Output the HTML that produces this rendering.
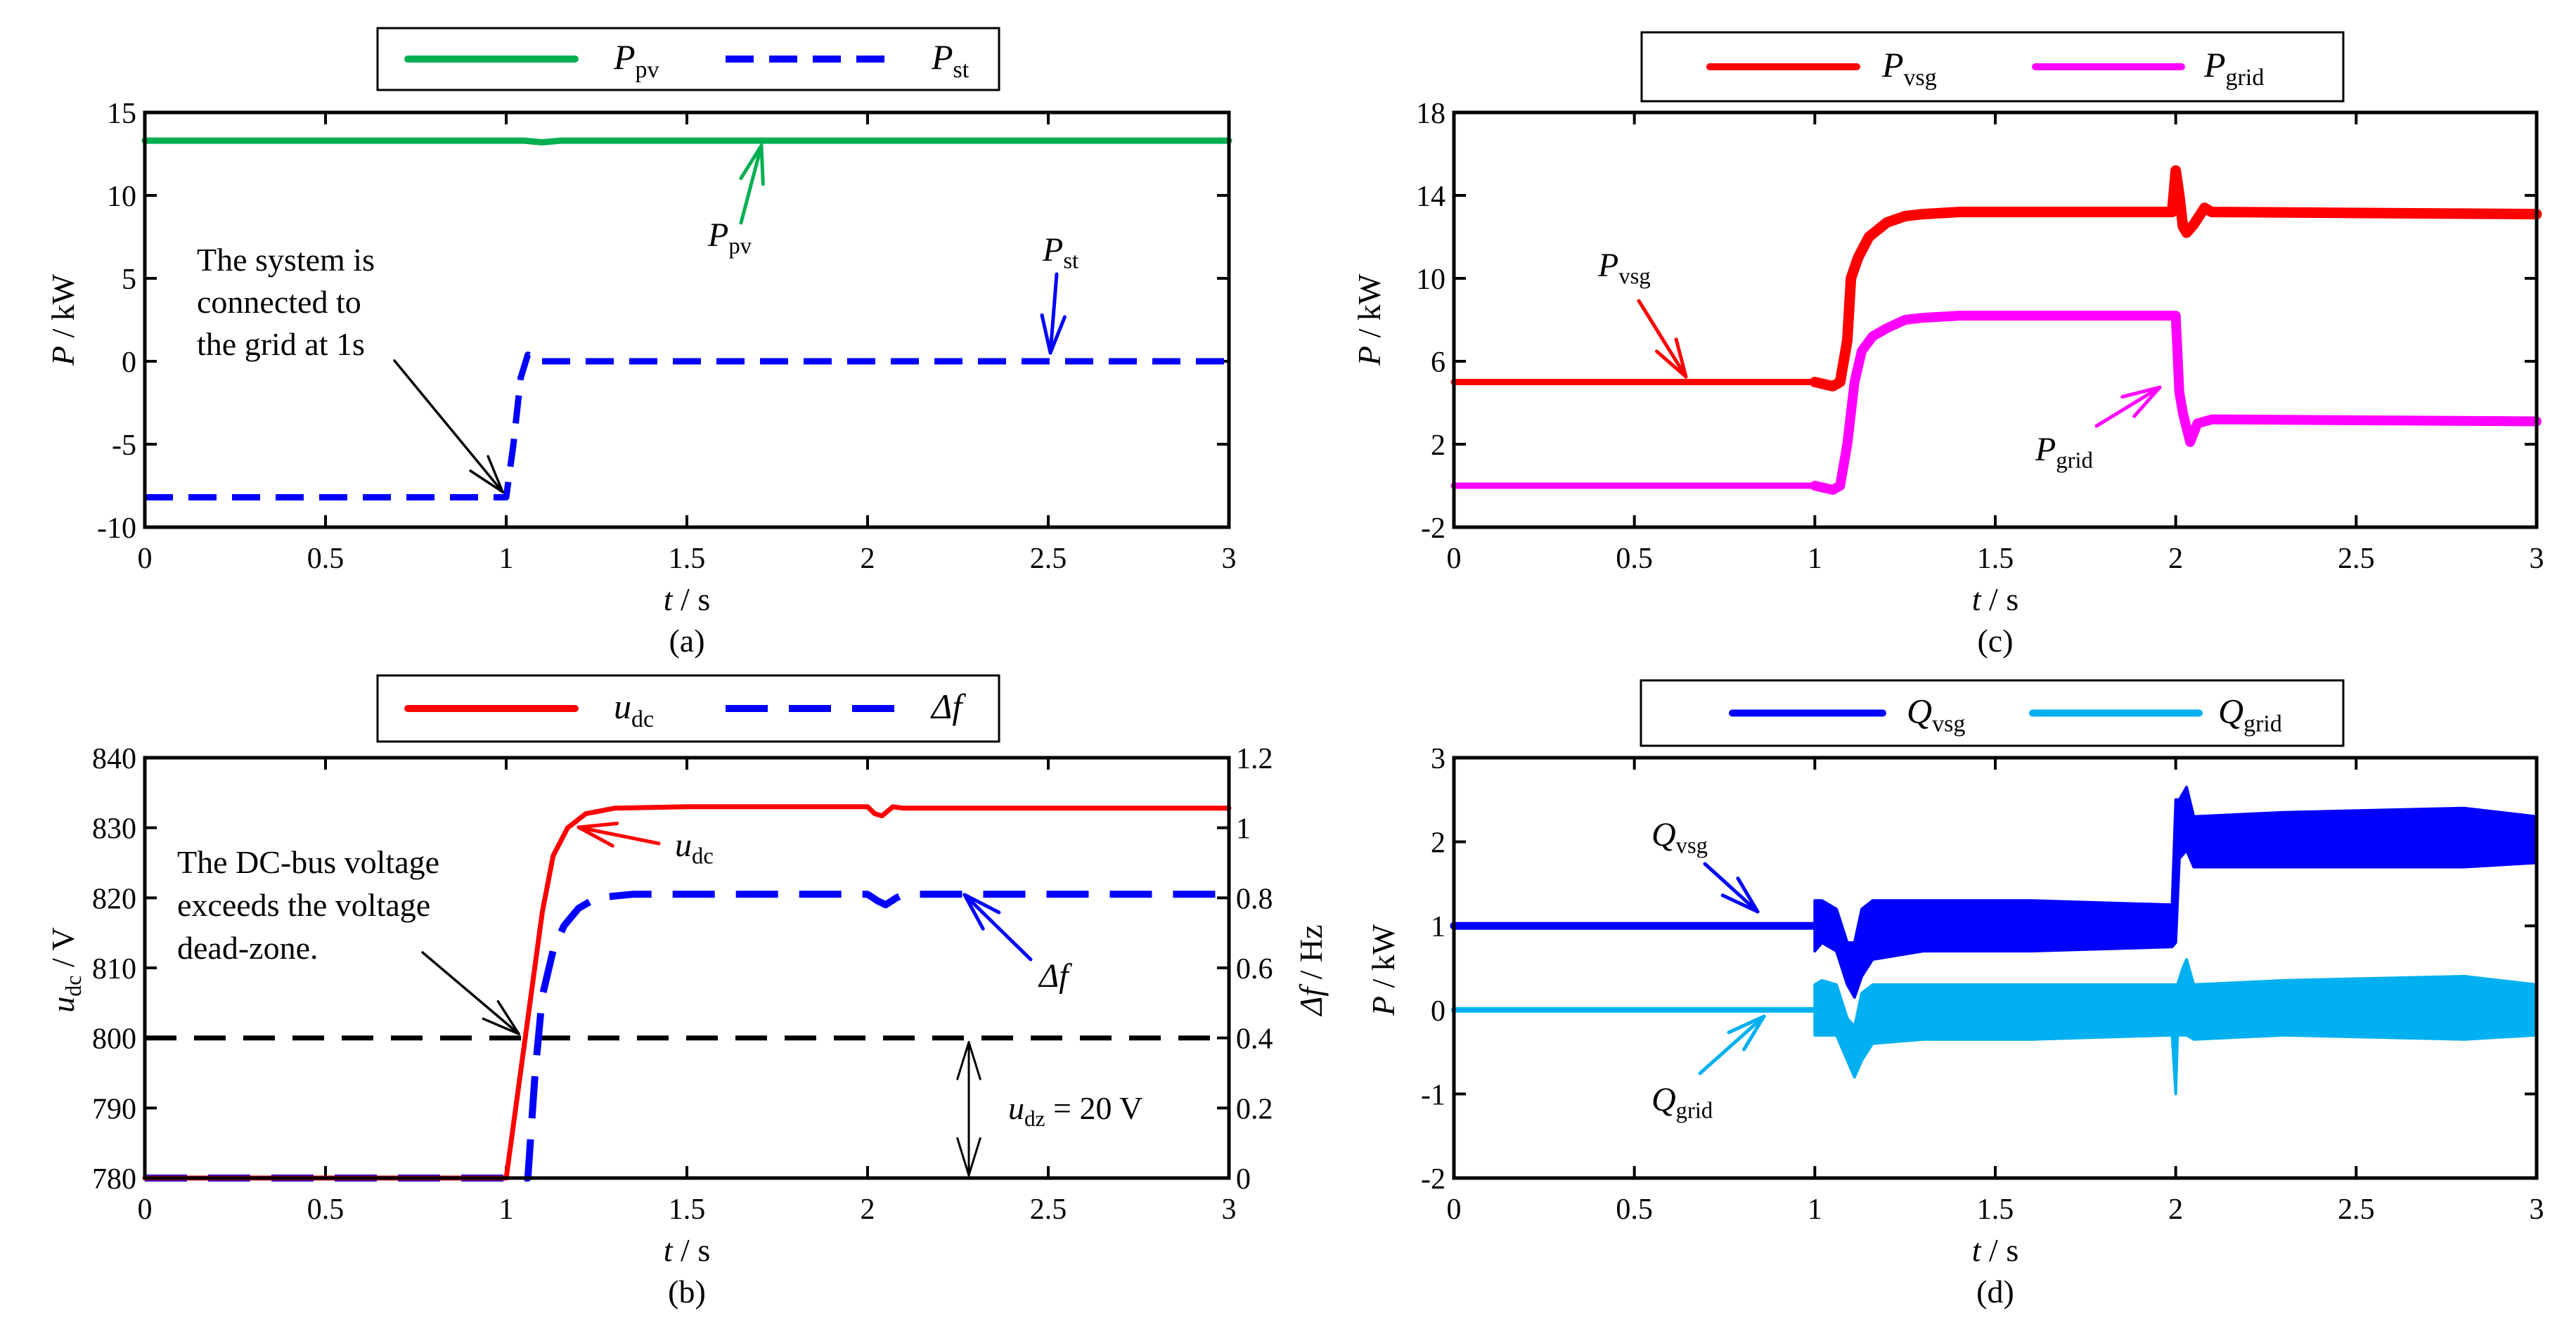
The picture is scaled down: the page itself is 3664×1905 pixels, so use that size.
<!DOCTYPE html>
<html><head><meta charset="utf-8">
<style>
html,body{margin:0;padding:0;background:#fff;}
svg, svg text{font-family:"Liberation Serif","DejaVu Serif",serif;}
</style></head>
<body>
<svg id="fig" width="3664" height="1900" viewBox="0 0 3664 1900" xmlns="http://www.w3.org/2000/svg" font-family="Liberation Serif, DejaVu Serif, serif">
<rect x="0" y="0" width="3664" height="1900" fill="#fff"/>
</svg>
<script>
// ---------- DATA ----------
const ticksT = [0, 0.5, 1, 1.5, 2, 2.5, 3];
const tickLabelsT = ["0", "0.5", "1", "1.5", "2", "2.5", "3"];
// panel a
const ticksA = [-10, -5, 0, 5, 10, 15];
const ppvT = [0, 1.05, 1.1, 1.15, 3];
const ppvV = [13.3, 13.3, 13.2, 13.3, 13.3];
const pstT = [0, 1.0, 1.02, 1.04, 1.06, 1.07, 1.08, 3];
const pstV = [-8.2, -8.2, -5, -1, 0.4, 0.3, 0, 0];
// panel b
const ticksB = [780, 790, 800, 810, 820, 830, 840];
const ticksBR = [0, 0.2, 0.4, 0.6, 0.8, 1, 1.2];
const tickLabelsBR = ["0", "0.2", "0.4", "0.6", "0.8", "1", "1.2"];
const udcT = [0, 1.0, 1.05, 1.1, 1.13, 1.17, 1.22, 1.3, 1.5, 2.0, 2.02, 2.04, 2.07, 2.1, 3];
const udcV = [780, 780, 799, 818, 826, 830, 832, 832.8, 833, 833, 832, 831.7, 833, 832.8, 832.8];
const dfT = [0, 1.06, 1.08, 1.1, 1.13, 1.16, 1.2, 1.25, 1.35, 1.5, 2.0, 2.03, 2.05, 2.08, 2.1, 3];
const dfV = [0, 0, 0.3, 0.52, 0.65, 0.72, 0.77, 0.8, 0.81, 0.81, 0.81, 0.79, 0.78, 0.8, 0.81, 0.81];
const deadZone = 800;
// panel c
const ticksC = [-2, 2, 6, 10, 14, 18];
const pvsgT = [0, 1.0, 1.05, 1.07, 1.09, 1.1, 1.12, 1.15, 1.2, 1.25, 1.3, 1.4, 1.99, 2.0, 2.01, 2.02, 2.03, 2.05, 2.08, 2.1, 3.0];
const pvsgV = [5, 5, 4.8, 5, 7, 10, 11, 12, 12.7, 13, 13.1, 13.2, 13.2, 15.2, 14, 12.5, 12.2, 12.6, 13.4, 13.2, 13.1];
const pgridT = [0, 1.0, 1.05, 1.07, 1.09, 1.11, 1.13, 1.16, 1.2, 1.25, 1.3, 1.4, 1.99, 2.0, 2.01, 2.02, 2.04, 2.06, 2.1, 3.0];
const pgridV = [0, 0, -0.2, 0, 2, 5, 6.5, 7.2, 7.6, 8, 8.1, 8.2, 8.2, 8.2, 4.5, 3.5, 2.1, 3, 3.2, 3.1];
// panel d
const ticksD = [-2, -1, 0, 1, 2, 3];
const qvsgFlat = 1.0;
const qvsgT  = [1.0, 1.02, 1.06, 1.09, 1.11, 1.13, 1.16, 1.3, 1.6, 1.99, 2.0, 2.01, 2.03, 2.05, 2.3, 2.8, 3.0];
const qvsgUp = [1.3, 1.3, 1.2, 0.8, 0.8, 1.2, 1.3, 1.3, 1.3, 1.25, 2.5, 2.5, 2.65, 2.3, 2.35, 2.4, 2.3];
const qvsgLo = [0.7, 0.8, 0.7, 0.3, 0.15, 0.4, 0.6, 0.7, 0.7, 0.75, 0.8, 1.8, 1.9, 1.7, 1.7, 1.7, 1.75];
const qgridFlat = 0.0;
const qgridT  = [1.0, 1.02, 1.06, 1.09, 1.11, 1.13, 1.16, 1.3, 1.6, 1.99, 2.0, 2.005, 2.02, 2.03, 2.05, 2.3, 2.8, 3.0];
const qgridUp = [0.3, 0.35, 0.3, -0.1, -0.2, 0.2, 0.3, 0.3, 0.3, 0.3, 0.3, 0.3, 0.5, 0.6, 0.3, 0.35, 0.4, 0.3];
const qgridLo = [-0.3, -0.3, -0.3, -0.6, -0.8, -0.6, -0.4, -0.35, -0.35, -0.3, -1.0, -0.3, -0.3, -0.3, -0.35, -0.3, -0.35, -0.3];

// ---------- HELPERS ----------
const NS = "http://www.w3.org/2000/svg";
const svg = document.getElementById("fig");
const FONT = "Liberation Serif, DejaVu Serif, serif";
function el(tag, attrs, parent, text) {
  const e = document.createElementNS(NS, tag);
  for (const k in attrs) e.setAttribute(k, attrs[k]);
  if (tag === "text") e.setAttribute("font-family", FONT);
  if (text !== undefined) e.textContent = text;
  (parent || svg).appendChild(e);
  return e;
}
function mkPanel(x0, x1, yT, yB, ymin, ymax) {
  return {x0, x1, yT, yB, ymin, ymax,
    sx: t => x0 + (t - 0) / 3 * (x1 - x0),
    sy: v => yB - (v - ymin) / (ymax - ymin) * (yB - yT)};
}
function yScale(p, lo, hi) { return v => p.yB - (v - lo) / (hi - lo) * (p.yB - p.yT); }
function pts(p, T, V, sy) { sy = sy || p.sy; return T.map((t, i) => p.sx(t).toFixed(1) + "," + sy(V[i]).toFixed(1)).join(" "); }

function axes(p, name, yticks, ylabels, rightTicks) {
  const g = el("g", {});
  
  
  ticksT.forEach((t, i) => {
    const x = p.sx(t);
    el("line", {x1: x, y1: p.yB, x2: x, y2: p.yB - 17, stroke: "#000", "stroke-width": 4}, g);
    el("line", {x1: x, y1: p.yT, x2: x, y2: p.yT + 17, stroke: "#000", "stroke-width": 4}, g);
    const tx = el("text", {x: x, y: p.yB + 58, "font-size": 42, "text-anchor": "middle"}, g, tickLabelsT[i]);
    
    
  });
  yticks.forEach((v, i) => {
    const y = p.sy(v);
    el("line", {x1: p.x0, y1: y, x2: p.x0 + 17, y2: y, stroke: "#000", "stroke-width": 4}, g);
    if (!rightTicks) el("line", {x1: p.x1, y1: y, x2: p.x1 - 17, y2: y, stroke: "#000", "stroke-width": 4}, g);
    const tx = el("text", {x: p.x0 - 12, y: y + 15, "font-size": 42, "text-anchor": "end"}, g, ylabels ? ylabels[i] : String(v));
    
    
  });
  return g;
}
function frame(p) {
  const r = el("rect", {x: p.x0, y: p.yT, width: p.x1 - p.x0, height: p.yB - p.yT, fill: "none", stroke: "#000", "stroke-width": 5});
  
  
}
function line(p, T, V, color, w, dash, name, sy) {
  const a = {points: pts(p, T, V, sy), fill: "none", stroke: color, "stroke-width": w, "stroke-linejoin": "round", "stroke-linecap": "round"};
  if (dash) { a["stroke-dasharray"] = dash; a["stroke-linecap"] = "butt"; }
  const e = el("polyline", a);
  
  
  return e;
}
function band(p, T, U, L, color, name) {
  const up = T.map((t, i) => p.sx(t).toFixed(1) + "," + p.sy(U[i]).toFixed(1));
  const lo = T.map((t, i) => p.sx(t).toFixed(1) + "," + p.sy(L[i]).toFixed(1)).reverse();
  const e = el("polygon", {points: up.concat(lo).join(" "), fill: color, stroke: color, "stroke-width": 4, "stroke-linejoin": "round"});
  
  
}
function arrow(x1, y1, x2, y2, color, w, name) {
  const g = el("g", {stroke: color, "stroke-width": w, fill: "none", "stroke-linecap": "round"});
  
  
  el("line", {x1, y1, x2, y2}, g);
  const ang = Math.atan2(y2 - y1, x2 - x1), L = 55, a = 0.3;
  el("line", {x1: x2, y1: y2, x2: x2 - L * Math.cos(ang - a), y2: y2 - L * Math.sin(ang - a)}, g);
  el("line", {x1: x2, y1: y2, x2: x2 - L * Math.cos(ang + a), y2: y2 - L * Math.sin(ang + a)}, g);
}
function label(x, y, main, sub, size, name, italic, anchor) {
  const t = el("text", {x, y, "font-size": size, "text-anchor": anchor || "start"});
  
  
  el("tspan", {"font-style": italic === false ? "normal" : "italic"}, t, main);
  if (sub) el("tspan", {"font-size": size * 0.68, dy: size * 0.22}, t, sub);
  return t;
}
function textLines(x, y0, lines, dy, size, name) {
  const t = el("text", {x, y: y0, "font-size": size});
  
  
  lines.forEach((s, i) => el("tspan", {x, y: y0 + i * dy}, t, s));
}
function legend(x0, y0, x1, y1, items, name) {
  const g = el("g", {});
  
  
  el("rect", {x: x0, y: y0, width: x1 - x0, height: y1 - y0, fill: "#fff", stroke: "#000", "stroke-width": 3}, g);
  const cy = (y0 + y1) / 2;
  items.forEach(it => {
    const a = {x1: it.lx0, y1: cy, x2: it.lx1, y2: cy, stroke: it.color, "stroke-width": 10, "stroke-linecap": it.dash ? "butt" : "round"};
    if (it.dash) a["stroke-dasharray"] = it.dash;
    const ln = el("line", a, g);
    
    
    const t = el("text", {x: it.tx, y: cy + 14, "font-size": 50}, g);
    
    
    el("tspan", {"font-style": "italic"}, t, it.main);
    if (it.sub) el("tspan", {"font-size": 34, dy: 12}, t, it.sub);
  });
}
function yTitle(x, y, main, sub, rest, name) {
  const t = el("text", {x: 0, y: 0, "font-size": 46, "text-anchor": "middle", transform: `translate(${x},${y}) rotate(-90)`});
  
  
  el("tspan", {"font-style": "italic"}, t, main);
  if (sub) el("tspan", {"font-size": 32, dy: 10}, t, sub);
  el("tspan", {dy: sub ? -10 : 0}, t, rest);
}
function xTitle(p, name, cap) {
  const cx = (p.x0 + p.x1) / 2;
  const t = el("text", {x: cx, y: p.yB + 118, "font-size": 46, "text-anchor": "middle"});
  
  
  el("tspan", {"font-style": "italic"}, t, "t");
  el("tspan", {}, t, " / s");
  const c = el("text", {x: cx, y: p.yB + 177, "font-size": 46, "text-anchor": "middle"}, svg, cap);
  
  
}

// ---------- PANEL A ----------
const pa = mkPanel(206, 1748, 160, 750, -10, 15);
axes(pa, "panel-a", ticksA);
line(pa, ppvT, ppvV, "#00b050", 9, null, "ppv-line");
line(pa, pstT, pstV, "#0000ff", 9, "40 22", "pst-line");
frame(pa);
yTitle(105, 455, "P", "", " / kW", "panel-a-y-title");
xTitle(pa, "panel-a", "(a)");
legend(537, 40, 1421, 128, [
  {lx0: 580, lx1: 818, color: "#00b050", tx: 873, main: "P", sub: "pv"},
  {lx0: 1032, lx1: 1265, color: "#0000ff", dash: "40 22", tx: 1325, main: "P", sub: "st"}], "panel-a-legend");
textLines(280, 385, ["The system is", "connected to", "the grid at 1s"], 60, 46, "grid-connect-annotation");
arrow(561, 513, 715, 700, "#000", 3.5, "grid-connect-arrow");
label(1007, 350, "P", "pv", 48, "ppv-label");
arrow(1054, 317, 1083, 207, "#00b050", 5, "ppv-arrow");
label(1483, 371, "P", "st", 48, "pst-label");
arrow(1503, 390, 1494, 502, "#0000ff", 5, "pst-arrow");

// ---------- PANEL B ----------
const pb = mkPanel(206, 1748, 1078, 1676, 780, 840);
const sybR = yScale(pb, 0, 1.2);
axes(pb, "panel-b", ticksB, null, true);
ticksBR.forEach((v, i) => {
  const y = sybR(v);
  el("line", {x1: pb.x1, y1: y, x2: pb.x1 - 17, y2: y, stroke: "#000", "stroke-width": 4});
  const t = el("text", {x: pb.x1 + 10, y: y + 15, "font-size": 42}, svg, tickLabelsBR[i]);
  
  
});
line(pb, [0, 3], [deadZone, deadZone], "#000", 7, "45 25", "dead-zone-line");
line(pb, dfT, dfV, "#0000ff", 10, "60 30", "delta-f-line", sybR);
line(pb, udcT, udcV, "#ff0000", 7, null, "udc-line");
frame(pb);
yTitle(105, 1380, "u", "dc", " / V", "panel-b-y-title");
yTitle(1880, 1380, "Δf", "", " / Hz", "panel-b-right-y-title");
xTitle(pb, "panel-b", "(b)");
legend(537, 961, 1421, 1055, [
  {lx0: 580, lx1: 818, color: "#ff0000", tx: 873, main: "u", sub: "dc"},
  {lx0: 1032, lx1: 1275, color: "#0000ff", dash: "60 30", tx: 1325, main: "Δf", sub: ""}], "panel-b-legend");
textLines(252, 1242, ["The DC-bus voltage", "exceeds the voltage", "dead-zone."], 61, 46, "dead-zone-annotation");
arrow(601, 1355, 738, 1471, "#000", 3.5, "dead-zone-arrow");
label(960, 1218, "u", "dc", 48, "udc-label");
arrow(937, 1200, 823, 1177, "#ff0000", 5, "udc-arrow");
label(1478, 1404, "Δf", "", 48, "delta-f-label");
arrow(1466, 1365, 1372, 1273, "#0000ff", 5, "delta-f-arrow");
(function(){
  const x = 1378, ya = pb.sy(deadZone) + 6, yb = pb.yB - 4;
  arrow(x, (ya + yb) / 2, x, ya, "#000", 3, "udz-arrow-up");
  arrow(x, (ya + yb) / 2, x, yb, "#000", 3, "udz-arrow-down");
})();
(function(){
  const t = label(1434, 1592, "u", "dz", 46, "udz-label");
  el("tspan", {dy: -10}, t, " = 20 V");
})();

// ---------- PANEL C ----------
const pc = mkPanel(2068, 3608, 160, 750, -2, 18);
axes(pc, "panel-c", ticksC);
line(pc, pvsgT, pvsgV, "#ff0000", 9, null, "pvsg-line");
line(pc, pvsgT.slice(1), pvsgV.slice(1), "#ff0000", 15, null, "pvsg-noise-band");
line(pc, pgridT, pgridV, "#ff00ff", 9, null, "pgrid-line");
line(pc, pgridT.slice(1), pgridV.slice(1), "#ff00ff", 14, null, "pgrid-noise-band");
frame(pc);
yTitle(1963, 455, "P", "", " / kW", "panel-c-y-title");
xTitle(pc, "panel-c", "(c)");
legend(2335, 46, 3333, 144, [
  {lx0: 2432, lx1: 2641, color: "#ff0000", tx: 2677, main: "P", sub: "vsg"},
  {lx0: 2895, lx1: 3103, color: "#ff00ff", tx: 3135, main: "P", sub: "grid"}], "panel-c-legend");
label(2273, 393, "P", "vsg", 48, "pvsg-label");
arrow(2331, 428, 2398, 536, "#ff0000", 5, "pvsg-arrow");
label(2895, 655, "P", "grid", 48, "pgrid-label");
arrow(2982, 606, 3072, 551, "#ff00ff", 5, "pgrid-arrow");

// ---------- PANEL D ----------
const pd = mkPanel(2068, 3608, 1078, 1676, -2, 3);
axes(pd, "panel-d", ticksD);
line(pd, [0, 1.0], [qgridFlat, qgridFlat], "#00b0f0", 8, null, "qgrid-flat-line");
band(pd, qgridT, qgridUp, qgridLo, "#00b0f0", "qgrid-band");
line(pd, [0, 1.0], [qvsgFlat, qvsgFlat], "#0000ff", 11, null, "qvsg-flat-line");
band(pd, qvsgT, qvsgUp, qvsgLo, "#0000ff", "qvsg-band");
frame(pd);
yTitle(1983, 1380, "P", "", " / kW", "panel-d-y-title");
xTitle(pd, "panel-d", "(d)");
legend(2334, 968, 3333, 1061, [
  {lx0: 2464, lx1: 2678, color: "#0000ff", tx: 2712, main: "Q", sub: "vsg"},
  {lx0: 2891, lx1: 3128, color: "#00b0f0", tx: 3155, main: "Q", sub: "grid"}], "panel-d-legend");
label(2349, 1203, "Q", "vsg", 48, "qvsg-label");
arrow(2425, 1229, 2500, 1297, "#0000ff", 5, "qvsg-arrow");
label(2349, 1580, "Q", "grid", 48, "qgrid-label");
arrow(2418, 1527, 2509, 1446, "#00b0f0", 5, "qgrid-arrow");
</script>
</body></html>
